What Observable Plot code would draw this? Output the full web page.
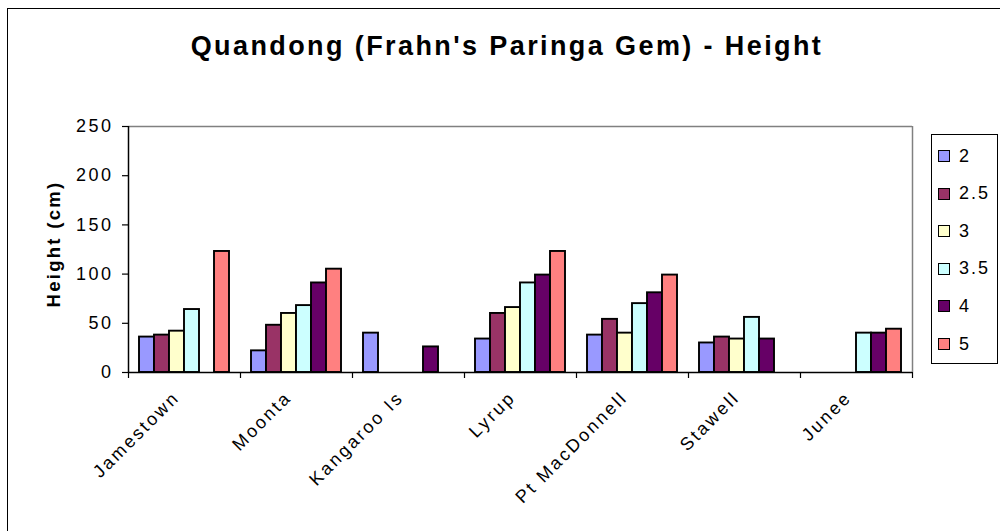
<!DOCTYPE html>
<html>
<head>
<meta charset="utf-8">
<script src="https://cdn.jsdelivr.net/npm/d3@7"></script>
<script src="https://cdn.jsdelivr.net/npm/@observablehq/plot@0.6"></script>
<style>
  html, body { margin: 0; padding: 0; background: #fff; }
  #wrap { position: relative; width: 1000px; height: 531px; overflow: hidden; font-family: "Liberation Sans", Arial, sans-serif; }
  #border { position: absolute; left: 7px; top: 8px; width: 1020px; height: 560px; border: 1.5px solid #000; box-sizing: border-box; }
  #title { position: absolute; left: 7px; width: 1000px; top: 33px; text-align: center; font-weight: bold; font-size: 27px; line-height: 27px; letter-spacing: 2.4px; color: #000; }
  #ylabel { position: absolute; left: 54px; top: 244px; transform: translate(-50%, -50%) rotate(-90deg); font-weight: bold; font-size: 18.5px; letter-spacing: 2.3px; white-space: nowrap; color: #000; }
  #chart { position: absolute; left: 0; top: 0; }
  #legend { position: absolute; left: 931px; top: 134px; width: 67px; height: 230px; border: 1px solid #000; box-sizing: border-box; background: #fff; }
  .item { position: absolute; left: 6px; height: 20px; display: flex; align-items: center; font-size: 18px; letter-spacing: 2px; color: #000; }
  .sw { width: 12px; height: 12px; border: 1.5px solid #000; box-sizing: border-box; margin-right: 9px; }
</style>
</head>
<body>
<div id="wrap">
  <div id="border"></div>
  <div id="chart"></div>
  <div id="title">Quandong (Frahn's Paringa Gem) - Height</div>
  <div id="ylabel">Height (cm)</div>
  <div id="legend"></div>
</div>
<script>
// Categories (sites) and series (legend keys)
const sites = ["Jamestown", "Moonta", "Kangaroo Is", "Lyrup", "Pt MacDonnell", "Stawell", "Junee"];
const series = ["2", "2.5", "3", "3.5", "4", "5"];
const colors = ["#9999FF", "#993366", "#FFFFCC", "#CCFFFF", "#660066", "#FF8080"];

// Heights (cm) per series, one value per site (null = no bar)
const h2  = [36, 22, 40, 34, 38, 30, null];
const h25 = [38, 48, null, 60, 54, 36, null];
const h3  = [42, 60, null, 66, 40, 34, null];
const h35 = [64, 68, null, 91, 70, 56, 40];
const h4  = [null, 91, 26, 99, 81, 34, 40];
const h5  = [123, 105, null, 123, 99, null, 44];

const yTicks = [0, 50, 100, 150, 200, 250];

const seriesValues = [h2, h25, h3, h35, h4, h5];
const data = [];
sites.forEach((site, i) => {
  series.forEach((s, j) => {
    const v = seriesValues[j][i];
    if (v != null) data.push({site, series: s, value: v});
  });
});

const chart = Plot.plot({
  width: 1000,
  height: 531,
  marginLeft: 128,
  marginRight: 88,
  marginTop: 126,
  marginBottom: 159,
  style: {fontFamily: "'Liberation Sans', Arial, sans-serif", fontSize: "18px", letterSpacing: "2.5px", color: "#000", background: "transparent", overflow: "visible"},
  fx: {domain: sites, padding: 0, label: null},
  x: {domain: series, paddingInner: 0, paddingOuter: 0.7333, axis: null},
  y: {domain: [0, 250], label: null},
  color: {domain: series, range: colors},
  marks: [
    Plot.ruleY([250], {stroke: "#808080", strokeWidth: 1.5}),
    Plot.ruleX([sites[sites.length - 1]], {fx: d => d, x: () => series[series.length - 1], y1: 0, y2: 250, dx: 18.5, stroke: "#808080", strokeWidth: 1.5}),
    Plot.barY(data, {fx: "site", x: "series", y: "value", fill: "series", stroke: "#000", strokeWidth: 1.9}),
    Plot.ruleY([0], {stroke: "#000", strokeWidth: 1.5}),
    Plot.ruleX([sites[0]], {fx: d => d, x: () => series[0], y1: 0, y2: 250, dx: -18.5, stroke: "#000", strokeWidth: 1.5}),
    Plot.axisY({ticks: yTicks, tickSize: 6, tickPadding: 9, fontSize: 18, label: null, strokeWidth: 1.2}),
    Plot.axisFx({anchor: "bottom", tickSize: 6, tickFormat: () => "", dx: -56, label: null, strokeWidth: 1.2}),
    Plot.axisFx({anchor: "bottom", ticks: [sites[sites.length - 1]], tickSize: 6, tickFormat: () => "", dx: 56, label: null, strokeWidth: 1.2}),
    Plot.axisFx({anchor: "bottom", tickSize: 0, tickPadding: 22, tickRotate: -45, fontSize: 18, label: null, dx: -8})
  ]
});
document.getElementById("chart").appendChild(chart);

// Legend built from series and colors
const legend = document.getElementById("legend");
series.forEach((s, j) => {
  const item = document.createElement("div");
  item.className = "item";
  item.style.top = (11 + j * 37.6) + "px";
  const sw = document.createElement("div");
  sw.className = "sw";
  sw.style.background = colors[j];
  const label = document.createElement("span");
  label.textContent = s;
  item.appendChild(sw);
  item.appendChild(label);
  legend.appendChild(item);
});
</script>
</body>
</html>
